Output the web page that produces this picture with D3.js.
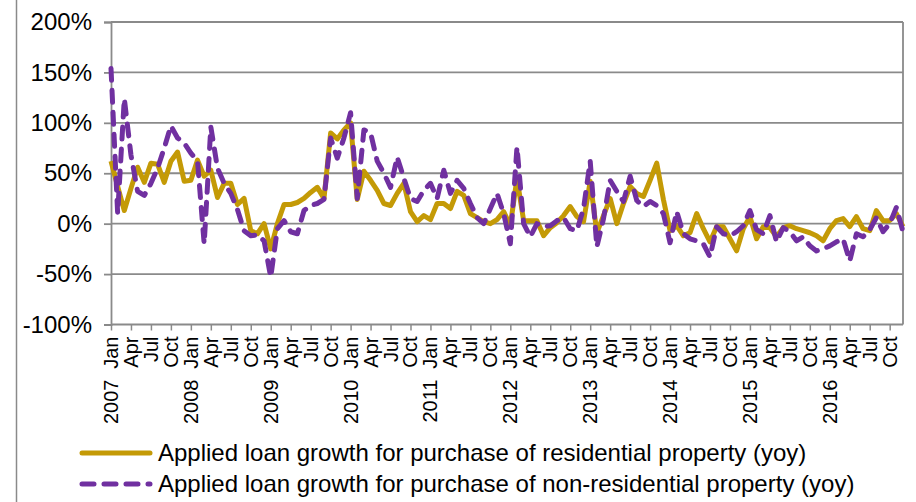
<!DOCTYPE html>
<html>
<head>
<meta charset="utf-8">
<script src="https://cdn.jsdelivr.net/npm/d3@7/dist/d3.min.js"></script>
<style>
  body { margin: 0; background: #fff; }
  svg { display: block; font-family: "Liberation Sans", Arial, sans-serif; }
</style>
</head>
<body>
<svg id="chart" width="916" height="502"></svg>
<script>
// Monthly categories, Jan 2007 – Dec 2016
const years = ["2007", "2008", "2009", "2010", "2011", "2012", "2013", "2014", "2015", "2016"];
const monthNames = ["Jan", "Feb", "Mar", "Apr", "May", "Jun", "Jul", "Aug", "Sep", "Oct", "Nov", "Dec"];
const labelledMonths = ["Jan", "Apr", "Jul", "Oct"];
const yTickValues = [-100, -50, 0, 50, 100, 150, 200];

// Year-on-year growth of applied loans, in percent
const residential = [
  62, 37, 13, 35, 56, 41, 60, 59, 41, 62, 71, 42,
  43, 63, 47, 53, 26, 40, 40, 19, 25, -7, -10, 0,
  -25, 0, 19, 19, 21, 25, 31, 36, 25, 90, 84, 93,
  100, 24, 52, 43, 33, 20, 18, 30, 40, 12, 2, 8,
  4, 20, 20, 15, 32, 28, 10, 6, 2, 0, 4, 12,
  -2, 45, 3, 3, 3, -12, -4, 1, 8, 17, 7, 2,
  42, -9, 8, 25, 0, 20, 37, 30, 27, 43, 60, 24,
  -7, -2, -12, -9, 10, -5, -18, -3, -3, -15, -27, -5,
  7, -15, -3, -4, -13, -4, -2, -5, -7, -9, -12, -17,
  -5, 3, 5, -3, 7, -5, -7, 13, 3, 3, 10, -3
];
const nonResidential = [
  154, 10, 124, 68, 32, 28, 40, 55, 75, 97, 85, 80,
  70, 62, -20, 96, 55, 40, 30, 14, -7, -12, -11, -17,
  -53, -5, 3, -8, -10, 13, 18, 20, 24, 85, 65, 85,
  110, 25, 93, 90, 62, 50, 36, 66, 45, 25, 22, 33,
  40, 25, 53, 30, 43, 35, 20, 6, 0, 15, 30, 10,
  -20, 76, 0, -13, 0, -3, -2, 3, 6, -5, -7, 15,
  62, -23, 5, 43, 32, 22, 47, 23, 17, 22, 18, 10,
  -19, 12, -10, -15, -17, -20, -33, -3, -10, -12, -8, -2,
  13, -6, -10, 8, -18, -4, -8, -17, -13, -22, -27, -25,
  -22, -18, -15, -37, -10, -13, -6, 6, -8, 0, 16, -8
];

const seriesNames = [
  "Applied loan growth for purchase of residential property (yoy)",
  "Applied loan growth for purchase of non-residential property (yoy)"
];

const categories = [];
years.forEach(y => monthNames.forEach(m => categories.push({ year: y, month: m, key: y + "-" + m })));

const plot = { left: 111, right: 903, top: 22, bottom: 324.5 };
const gridColor = "#8a8a8a";
const gold = "#C49A06";
const purple = "#7030A0";

const svg = d3.select("#chart");

const x = d3.scalePoint()
  .domain(categories.map(d => d.key))
  .range([plot.left, plot.right]);

const y = d3.scaleLinear()
  .domain([-100, 200])
  .range([plot.bottom, plot.top]);

// chart-area frame on the left
svg.append("line")
  .attr("x1", 16.5).attr("x2", 16.5).attr("y1", 0).attr("y2", 502)
  .attr("stroke", gridColor).attr("stroke-width", 1.5);

// horizontal gridlines
svg.append("g")
  .selectAll("line")
  .data(yTickValues.filter(v => v > -100))
  .join("line")
  .attr("x1", plot.left).attr("x2", plot.right)
  .attr("y1", d => y(d)).attr("y2", d => y(d))
  .attr("stroke", gridColor).attr("stroke-width", 1.8);

// right border of the plot area
svg.append("line")
  .attr("x1", plot.right).attr("x2", plot.right)
  .attr("y1", plot.top).attr("y2", plot.bottom)
  .attr("stroke", gridColor).attr("stroke-width", 1.8);

// y axis
const yAxis = svg.append("g")
  .attr("transform", `translate(${plot.left},0)`)
  .call(d3.axisLeft(y).tickValues(yTickValues).tickSize(7).tickPadding(12).tickFormat(d => d + "%"));
yAxis.select(".domain").attr("stroke", gridColor).attr("stroke-width", 1.8);
yAxis.selectAll(".tick line").attr("stroke", gridColor).attr("stroke-width", 1.8);
yAxis.selectAll(".tick text")
  .attr("font-size", 24).attr("fill", "#000")
  .attr("font-family", "'Liberation Sans', Arial, sans-serif");

// x axis with ticks every quarter
const tickKeys = categories.filter(d => labelledMonths.includes(d.month)).map(d => d.key);
const xAxis = svg.append("g")
  .attr("transform", `translate(0,${plot.bottom})`)
  .call(d3.axisBottom(x).tickValues(tickKeys).tickSize(6).tickFormat(""));
xAxis.select(".domain").attr("stroke", gridColor).attr("stroke-width", 1.8)
  .attr("d", `M${plot.left},0H${plot.right}`);
xAxis.selectAll(".tick line").attr("stroke", gridColor).attr("stroke-width", 1.5);

// rotated month labels
svg.append("g")
  .selectAll("text")
  .data(categories.filter(d => labelledMonths.includes(d.month)))
  .join("text")
  .attr("transform", d => `translate(${x(d.key)},${plot.bottom + 12}) rotate(-90)`)
  .attr("text-anchor", "end")
  .attr("dy", "0.35em")
  .attr("font-size", 20)
  .attr("fill", "#000")
  .text(d => d.month);

// rotated year labels under each January
svg.append("g")
  .selectAll("text")
  .data(categories.filter(d => d.month === "Jan"))
  .join("text")
  .attr("transform", d => `translate(${x(d.key)},${plot.bottom + 55}) rotate(-90)`)
  .attr("text-anchor", "end")
  .attr("dy", "0.35em")
  .attr("font-size", 20)
  .attr("fill", "#000")
  .text(d => d.year);

// series lines
const line = d3.line()
  .x((d, i) => x(categories[i].key))
  .y(d => y(d));

svg.append("path")
  .datum(residential)
  .attr("d", line)
  .attr("fill", "none")
  .attr("stroke", gold)
  .attr("stroke-width", 5)
  .attr("stroke-linejoin", "round");

svg.append("path")
  .datum(nonResidential)
  .attr("d", line)
  .attr("fill", "none")
  .attr("stroke", purple)
  .attr("stroke-width", 5)
  .attr("stroke-linejoin", "round")
  .attr("stroke-linecap", "round")
  .attr("stroke-dasharray", "12,10");

// legend
const legend = svg.append("g");
const legendRows = [
  { name: seriesNames[0], color: gold, dash: null, y: 453 },
  { name: seriesNames[1], color: purple, dash: "12,10", y: 484 }
];
legendRows.forEach(r => {
  legend.append("line")
    .attr("x1", 82).attr("x2", 150).attr("y1", r.y).attr("y2", r.y)
    .attr("stroke", r.color).attr("stroke-width", 5)
    .attr("stroke-linecap", "round")
    .attr("stroke-dasharray", r.dash);
  legend.append("text")
    .attr("x", 158).attr("y", r.y).attr("dy", "0.35em")
    .attr("font-size", 24).attr("fill", "#000")
    .text(r.name);
});
</script>
</body>
</html>
